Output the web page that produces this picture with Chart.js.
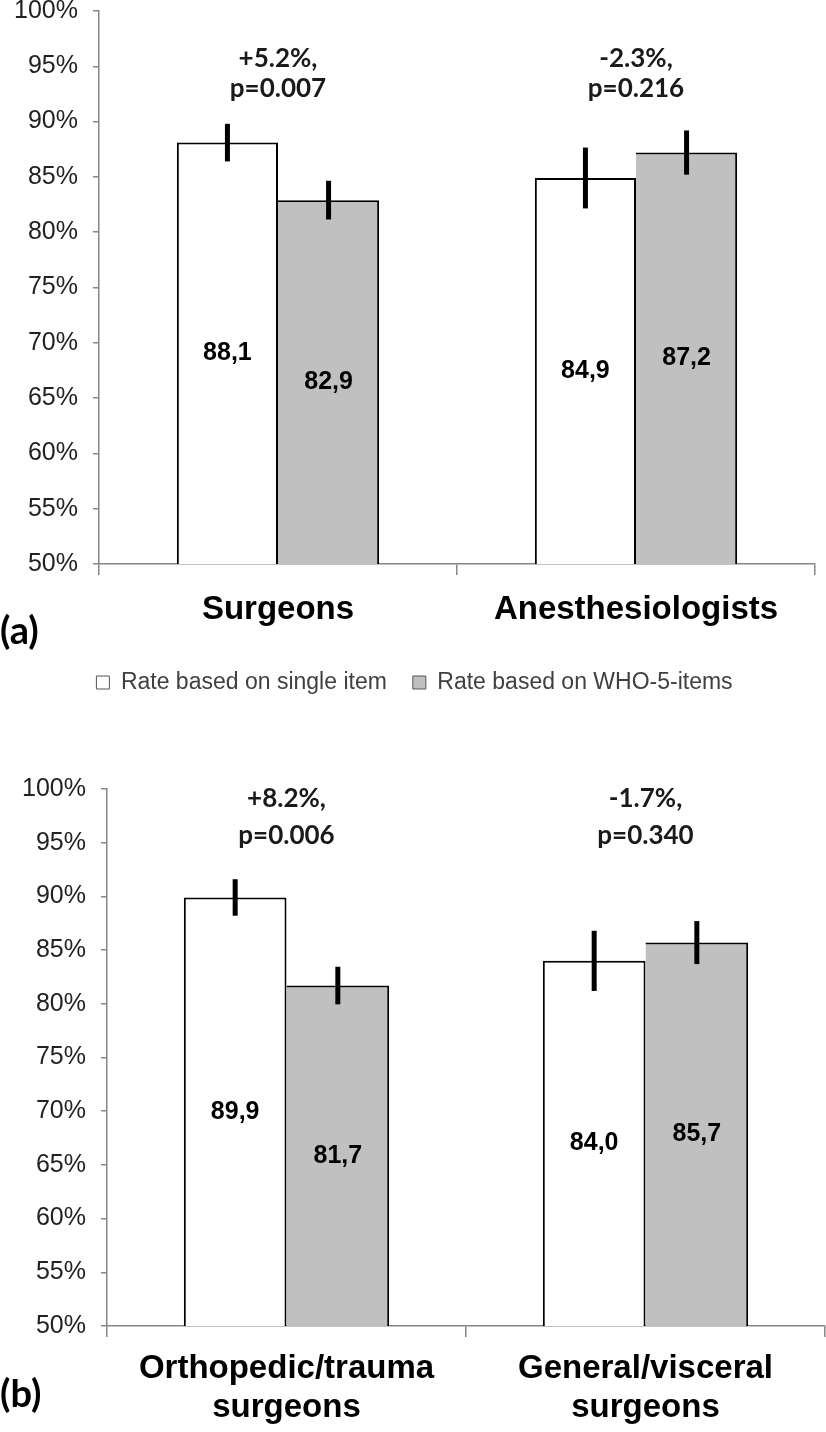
<!DOCTYPE html>
<html>
<head>
<meta charset="utf-8">
<script src="https://cdn.jsdelivr.net/npm/chart.js@4"></script>
<style>
  body { margin: 0; background: #fff; }
  #page { position: relative; width: 826px; height: 1432px; overflow: hidden; }
  canvas { position: absolute; left: 0; }
  #chartA { top: 0; }
  #chartB { top: 740px; }
  .panel { position: absolute; left: 0; font: bold 38px Lato, sans-serif; color: #000; line-height: 1; }
</style>
</head>
<body>
<div id="page">
  <canvas id="chartA" width="826" height="704"></canvas>
  <canvas id="chartB" width="826" height="692"></canvas>
  <div class="panel" style="top:610px">(a)</div>
  <div class="panel" style="top:1373px">(b)</div>
</div>
<script>
// panel (a)
const categoriesA = ['Surgeons', 'Anesthesiologists'];
const singleA = [88.1, 84.9];
const whoA = [82.9, 87.2];
const errSingleA = [1.7, 2.75];
const errWhoA = [1.75, 2.0];
const diffA = ['+5.2%,', '-2.3%,'];
const pA = ['p=0.007', 'p=0.216'];

// panel (b)
const categoriesB = [['Orthopedic/trauma', 'surgeons'], ['General/visceral', 'surgeons']];
const singleB = [89.9, 84.0];
const whoB = [81.7, 85.7];
const errSingleB = [1.7, 2.8];
const errWhoB = [1.75, 2.0];
const diffB = ['+8.2%,', '-1.7%,'];
const pB = ['p=0.006', 'p=0.340'];

const seriesNames = ['Rate based on single item', 'Rate based on WHO-5-items'];
const yMin = 50, yMax = 100, yStep = 5;

const SANS = '"Liberation Sans", Arial, sans-serif';
const AXIS = '#868686';

function makeChart(id, o) {
  // error bars, values in the bars and the difference notes
  const overlay = {
    id: 'overlay',
    afterDatasetsDraw(chart) {
      const ctx = chart.ctx;
      const x = chart.scales.x, y = chart.scales.y;
      const base = y.getPixelForValue(yMin);
      ctx.save();
      [o.errSingle, o.errWho].forEach((errs, di) => {
        const meta = chart.getDatasetMeta(di);
        meta.data.forEach((bar, i) => {
          const v = chart.data.datasets[di].data[i];
          ctx.strokeStyle = '#000';
          ctx.lineWidth = 5;
          ctx.beginPath();
          ctx.moveTo(bar.x, y.getPixelForValue(v + errs[i]));
          ctx.lineTo(bar.x, y.getPixelForValue(v - errs[i]));
          ctx.stroke();

          ctx.fillStyle = '#000';
          ctx.font = 'bold 25px ' + SANS;
          ctx.textAlign = 'center';
          ctx.textBaseline = 'middle';
          ctx.fillText(v.toFixed(1).replace('.', ','), bar.x, (bar.y + base) / 2);
        });
      });
      ctx.font = 'bold 26px Lato, sans-serif';
      ctx.fillStyle = '#1a1a1a';
      ctx.textAlign = 'center';
      ctx.textBaseline = 'middle';
      o.diffs.forEach((d, i) => {
        const cx = x.getPixelForValue(i);
        ctx.fillText(d, cx, y.getPixelForValue(o.noteY[0]));
        ctx.fillText(o.pvals[i], cx, y.getPixelForValue(o.noteY[1]));
      });
      ctx.restore();
    }
  };

  return new Chart(document.getElementById(id), {
    type: 'bar',
    data: {
      labels: o.labels,
      datasets: [
        { label: seriesNames[0], data: o.single, backgroundColor: '#ffffff', borderColor: '#000',
          borderWidth: { top: 2, left: 2, bottom: 2, right: 2 }, borderSkipped: false },
        { label: seriesNames[1], data: o.who, backgroundColor: '#c0c0c0', borderColor: '#000',
          borderWidth: { top: 2, left: 0, bottom: 2, right: 2 }, borderSkipped: false }
      ]
    },
    options: {
      responsive: false,
      animation: false,
      layout: { padding: { top: o.top, right: o.right, left: o.left, bottom: 0 } },
      datasets: { bar: { categoryPercentage: o.catPct, barPercentage: 1 } },
      scales: {
        x: {
          grid: { display: true, drawOnChartArea: false, offset: true, tickLength: 11, color: AXIS, lineWidth: 1.5 },
          border: { color: AXIS, width: 1.5 },
          ticks: { color: '#000', padding: o.labelPad, font: { family: SANS, size: 33, weight: 'bold', lineHeight: 1.18 } },
          afterFit(scale) {
            scale.height = o.xHeight;
            scale.paddingLeft = 0;
            scale.paddingRight = 0;
          }
        },
        y: {
          min: yMin,
          max: yMax,
          grid: { display: true, drawOnChartArea: false, tickLength: 6, color: AXIS, lineWidth: 1.5 },
          border: { color: AXIS, width: 1.5 },
          ticks: { stepSize: yStep, padding: 15, color: '#222', font: { family: SANS, size: 25 }, callback: v => v + '%' },
          afterFit(scale) {
            scale.width = o.yWidth;
            scale.paddingTop = 0;
            scale.paddingBottom = 0;
          }
        }
      },
      plugins: {
        legend: {
          display: o.legend,
          position: 'bottom',
          labels: {
            boxWidth: 13,
            boxHeight: 13,
            padding: 26,
            color: '#404040',
            font: { family: SANS, size: 23 },
            generateLabels(chart) {
              return Chart.defaults.plugins.legend.labels.generateLabels(chart).map(l => {
                l.lineWidth = 1;
                l.strokeStyle = '#555';
                return l;
              });
            }
          }
        },
        tooltip: { enabled: false }
      }
    },
    plugins: [overlay]
  });
}

makeChart('chartA', {
  labels: categoriesA, single: singleA, who: whoA,
  errSingle: errSingleA, errWho: errWhoA, diffs: diffA, pvals: pA,
  noteY: [95.7, 93.0],
  top: 11, right: 11, left: 14, yWidth: 85, xHeight: 81, labelPad: 15, catPct: 0.565, legend: true
});

makeChart('chartB', {
  labels: categoriesB, single: singleB, who: whoB,
  errSingle: errSingleB, errWho: errWhoB, diffs: diffB, pvals: pB,
  noteY: [99.15, 95.7],
  top: 49, right: 1, left: 0, yWidth: 107, xHeight: 106, labelPad: 12, catPct: 0.572, legend: false
});
</script>
</body>
</html>
